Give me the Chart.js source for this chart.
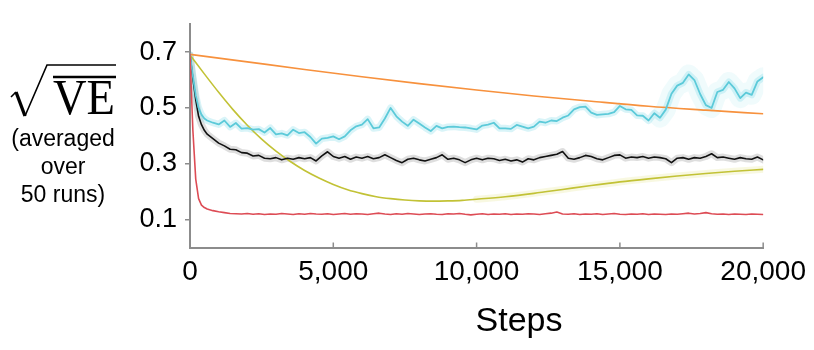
<!DOCTYPE html>
<html>
<head>
<meta charset="utf-8">
<script src="https://cdn.jsdelivr.net/npm/chart.js@4.4.1/dist/chart.umd.min.js"></script>
<style>
  html, body { margin: 0; padding: 0; background: #fff; }
  #wrap { width: 814px; height: 350px; }
</style>
</head>
<body>
<div id="wrap"><canvas id="veChart" width="814" height="350"></canvas></div>
<script>
// sample steps for the noisy runs
const steps = [
  0, 100, 200, 300, 400, 500, 600,
  800, 1000, 1200, 1400, 1600, 1800, 2000, 2200, 2400, 2600,
  2800, 3000, 3200, 3400, 3600, 3800, 4000, 4200, 4400, 4600,
  4800, 5000, 5200, 5400, 5600, 5800, 6000, 6200, 6400, 6600,
  6800, 7000, 7200, 7400, 7600, 7800, 8000, 8200, 8400, 8600,
  8800, 9000, 9200, 9400, 9600, 9800, 10000, 10200, 10400, 10600,
  10800, 11000, 11200, 11400, 11600, 11800, 12000, 12200, 12400, 12600,
  12800, 13000, 13200, 13400, 13600, 13800, 14000, 14200, 14400, 14600,
  14800, 15000, 15200, 15400, 15600, 15800, 16000, 16200, 16400, 16600,
  16800, 17000, 17200, 17400, 17600, 17800, 18000, 18200, 18400, 18600,
  18800, 19000, 19200, 19400, 19600, 19800, 20000
];

const cyanVE = [
  0.690, 0.615, 0.545, 0.500, 0.476, 0.462, 0.455,
  0.447, 0.441, 0.455, 0.432, 0.446, 0.426, 0.428, 0.422, 0.424, 0.412,
  0.428, 0.405, 0.409, 0.402, 0.422, 0.410, 0.413, 0.396, 0.372, 0.390,
  0.393, 0.398, 0.388, 0.398, 0.420, 0.434, 0.440, 0.460, 0.427, 0.430,
  0.462, 0.500, 0.470, 0.451, 0.436, 0.458, 0.444, 0.430, 0.417, 0.436,
  0.427, 0.432, 0.433, 0.431, 0.430, 0.427, 0.423, 0.437, 0.440, 0.447,
  0.427, 0.427, 0.425, 0.439, 0.433, 0.427, 0.433, 0.451, 0.447, 0.455,
  0.453, 0.465, 0.473, 0.495, 0.503, 0.505, 0.483, 0.475, 0.477, 0.479,
  0.485, 0.507, 0.495, 0.493, 0.473, 0.472, 0.455, 0.481, 0.465, 0.494,
  0.551, 0.580, 0.590, 0.620, 0.600, 0.550, 0.510, 0.500, 0.557, 0.565,
  0.593, 0.570, 0.535, 0.555, 0.547, 0.595, 0.610
];

const blackVE = [
  0.690, 0.605, 0.530, 0.470, 0.440, 0.420, 0.406,
  0.390, 0.374, 0.364, 0.352, 0.350, 0.340, 0.338, 0.328, 0.330, 0.320,
  0.318, 0.322, 0.314, 0.320, 0.316, 0.322, 0.318, 0.322, 0.310, 0.328,
  0.343, 0.326, 0.320, 0.326, 0.316, 0.324, 0.320, 0.326, 0.318, 0.322,
  0.332, 0.322, 0.312, 0.304, 0.316, 0.320, 0.314, 0.310, 0.316, 0.322,
  0.332, 0.316, 0.320, 0.314, 0.304, 0.314, 0.320, 0.314, 0.320, 0.318,
  0.312, 0.316, 0.310, 0.314, 0.306, 0.318, 0.314, 0.322, 0.326, 0.330,
  0.334, 0.344, 0.320, 0.316, 0.322, 0.330, 0.326, 0.318, 0.314, 0.322,
  0.330, 0.332, 0.320, 0.324, 0.322, 0.326, 0.320, 0.324, 0.322, 0.318,
  0.304, 0.320, 0.322, 0.316, 0.322, 0.320, 0.326, 0.336, 0.322, 0.324,
  0.320, 0.316, 0.322, 0.318, 0.316, 0.324, 0.314
];

const redVE = [
  0.690, 0.420, 0.245, 0.175, 0.152, 0.143, 0.138,
  0.132, 0.128, 0.125, 0.122, 0.121, 0.120, 0.122, 0.119, 0.121, 0.118,
  0.120, 0.119, 0.122, 0.120, 0.118, 0.121, 0.119, 0.122, 0.120, 0.119,
  0.121, 0.118, 0.120, 0.122, 0.119, 0.121, 0.120, 0.118, 0.121, 0.123,
  0.120, 0.118, 0.121, 0.119, 0.122, 0.120, 0.118, 0.120, 0.121, 0.119,
  0.118, 0.121, 0.120, 0.122, 0.119, 0.117, 0.119, 0.121, 0.118, 0.120,
  0.119, 0.121, 0.118, 0.120, 0.119, 0.121, 0.120, 0.118, 0.121, 0.123,
  0.127, 0.120, 0.119, 0.121, 0.118, 0.120, 0.119, 0.121, 0.118, 0.120,
  0.122, 0.119, 0.118, 0.120, 0.119, 0.121, 0.118, 0.120, 0.119, 0.118,
  0.120, 0.119, 0.121, 0.123, 0.120, 0.122, 0.125, 0.121, 0.119, 0.120,
  0.118, 0.120, 0.119, 0.118, 0.120, 0.119, 0.118
];

// smooth runs
const oliveSteps = [
  0, 500, 1000, 1500, 2000, 2500, 3000, 3500, 4000, 4500,
  5000, 5500, 6000, 6500, 7000, 7500, 8000, 8500, 9000, 9500,
  10000, 11000, 12000, 13000, 14000, 15000, 16000, 17000, 18000, 19000, 20000
];
const oliveVE = [
  0.690, 0.622, 0.556, 0.494, 0.438, 0.388, 0.345, 0.308, 0.276, 0.249,
  0.226, 0.207, 0.193, 0.182, 0.175, 0.170, 0.167, 0.166, 0.167, 0.169,
  0.173, 0.182, 0.194, 0.208, 0.222, 0.235, 0.246, 0.256, 0.265, 0.273, 0.280
];

const orangeSteps = [0, 2000, 4000, 6000, 8000, 10000, 12000, 14000, 16000, 18000, 20000];
const orangeVE = [0.692, 0.665, 0.638, 0.612, 0.587, 0.564, 0.543, 0.524, 0.506, 0.492, 0.479];

const xTicks = [0, 5000, 10000, 15000, 20000];
const yTicks = [0.1, 0.3, 0.5, 0.7];

const AXIS_GREY = '#8c8c8c';

const pts = (xs, ys) => xs.map((x, i) => ({ x: x, y: ys[i] }));
// tail of a run, from a given step on
const from = (xs, ys, s) => pts(xs, ys).filter(p => p.x >= s);

function line(data, color, width, order, smooth) {
  return {
    data: data,
    borderColor: color,
    borderWidth: width,
    pointRadius: 0,
    tension: smooth ? 0.4 : 0,
    cubicInterpolationMode: smooth ? 'monotone' : 'default',
    borderJoinStyle: 'round',
    borderCapStyle: 'round',
    fill: false,
    order: order,
  };
}

// left-hand label, x tick marks and the x axis name
const decorations = {
  id: 'decorations',
  afterDraw(chart) {
    const ctx = chart.ctx;
    const area = chart.chartArea;
    const xs = chart.scales.x;

    ctx.save();
    // inward tick marks on the x axis
    ctx.strokeStyle = AXIS_GREY;
    ctx.lineWidth = 1.5;
    xTicks.forEach(v => {
      const px = xs.getPixelForValue(v);
      ctx.beginPath();
      ctx.moveTo(px, area.bottom);
      ctx.lineTo(px, area.bottom - 5);
      ctx.stroke();
    });

    // radical sign
    ctx.strokeStyle = '#000';
    ctx.lineCap = 'butt';
    ctx.lineWidth = 1.6;
    ctx.beginPath();
    ctx.moveTo(11, 97);
    ctx.lineTo(16, 92);
    ctx.stroke();
    ctx.lineWidth = 3.4;
    ctx.beginPath();
    ctx.moveTo(16, 92);
    ctx.lineTo(25, 116);
    ctx.stroke();
    ctx.lineWidth = 1.6;
    ctx.beginPath();
    ctx.moveTo(25, 116);
    ctx.lineTo(47, 65);
    ctx.lineTo(116, 65);
    ctx.stroke();

    // bar over VE
    ctx.lineWidth = 2.4;
    ctx.beginPath();
    ctx.moveTo(53, 77);
    ctx.lineTo(116, 77);
    ctx.stroke();

    ctx.fillStyle = '#000';
    ctx.font = '50px "Liberation Serif"';
    ctx.textBaseline = 'alphabetic';
    ctx.textAlign = 'left';
    const w = ctx.measureText('VE').width;
    ctx.save();
    ctx.translate(53, 114);
    ctx.scale(62 / w, 1);
    ctx.fillText('VE', 0, 0);
    ctx.restore();

    ctx.font = '23px "Liberation Sans"';
    ctx.textAlign = 'center';
    ctx.fillText('(averaged', 63, 146);
    ctx.fillText('over', 63, 174);
    ctx.fillText('50 runs)', 63, 202);

    ctx.font = '34px "Liberation Sans"';
    ctx.fillText('Steps', 519, 331);
    ctx.restore();
  }
};

const ctx = document.getElementById('veChart').getContext('2d');
new Chart(ctx, {
  type: 'line',
  plugins: [decorations],
  data: {
    datasets: [
      // shaded error bands
      line(from(steps, cyanVE, 16400), 'rgba(160, 228, 238, 0.16)', 20, 23, false),
      line(pts(steps, cyanVE), 'rgba(120, 215, 230, 0.28)', 7, 20, false),
      line(pts(steps, blackVE), 'rgba(0, 0, 0, 0.13)', 7, 21, false),
      line(from(oliveSteps, oliveVE, 10000), 'rgba(215, 215, 90, 0.18)', 7, 22, true),
      // mean curves
      line(pts(orangeSteps, orangeVE), '#f7913d', 1.6, 6, true),
      line(pts(oliveSteps, oliveVE), '#c2c236', 1.6, 5, true),
      line(pts(steps, blackVE), '#111111', 1.6, 4, false),
      line(pts(steps, cyanVE), '#5ccad9', 1.8, 3, false),
      line(pts(steps, redVE), '#dd4c55', 1.6, 2, false),
    ]
  },
  options: {
    responsive: false,
    devicePixelRatio: 1,
    animation: false,
    events: [],
    layout: { padding: { top: 18, right: 48, left: 0, bottom: 0 } },
    plugins: {
      legend: { display: false },
      tooltip: { enabled: false },
    },
    scales: {
      x: {
        type: 'linear',
        min: 0,
        max: 20000,
        afterBuildTicks: scale => { scale.ticks = xTicks.map(v => ({ value: v })); },
        afterFit: scale => { scale.height = 102.5; },
        border: { display: true, color: AXIS_GREY, width: 2 },
        grid: { display: false, drawTicks: false },
        ticks: {
          padding: 8,
          maxRotation: 0,
          color: '#000',
          font: { family: '"Liberation Sans"', size: 28 },
          callback: v => v.toLocaleString('en-US'),
        },
      },
      y: {
        min: 0,
        max: 0.8,
        afterBuildTicks: scale => { scale.ticks = yTicks.map(v => ({ value: v })); },
        afterFit: scale => { scale.width = 190; },
        border: { display: true, color: AXIS_GREY, width: 2 },
        grid: { drawOnChartArea: false, drawTicks: true, tickLength: 5, color: AXIS_GREY, lineWidth: 1.5 },
        ticks: {
          padding: 8,
          color: '#000',
          font: { family: '"Liberation Sans"', size: 27 },
          callback: v => v.toFixed(1),
        },
      },
    },
  },
});
</script>
</body>
</html>
